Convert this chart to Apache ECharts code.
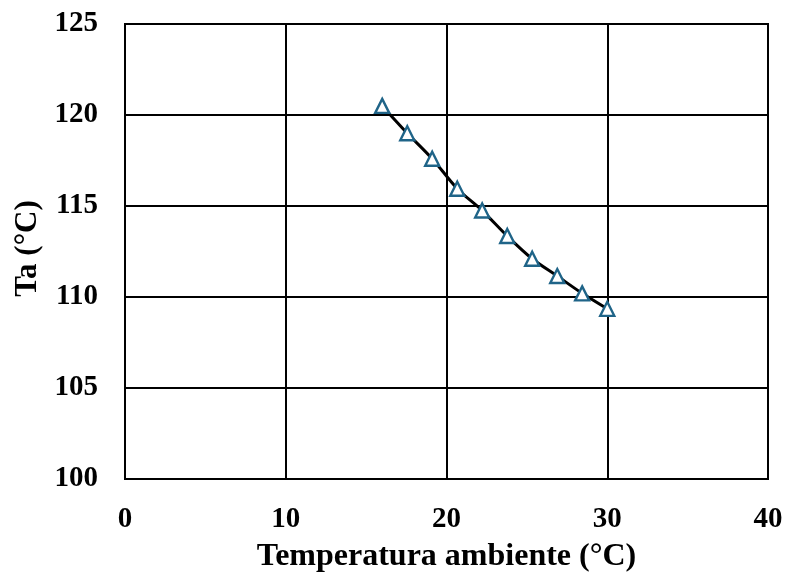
<!DOCTYPE html>
<html><head><meta charset="utf-8">
<script src="https://cdn.jsdelivr.net/npm/echarts@6/dist/echarts.min.js"></script>
<style>html,body{margin:0;padding:0;background:#fff}#c{width:785px;height:580px}</style>
</head><body><div id="c"></div>
<script>
var tempAmbiente = [16, 17.56, 19.11, 20.67, 22.22, 23.78, 25.33, 26.89, 28.44, 30];
var ta = [120.5, 119.0, 117.6, 115.95, 114.75, 113.35, 112.1, 111.15, 110.2, 109.35];
var xTitle = 'Temperatura ambiente (°C)';
var yTitle = 'Ta (°C)';

var data = tempAmbiente.map(function(x, i){ return [x, ta[i]]; });
var font = 'Liberation Serif';
var chart = echarts.init(document.getElementById('c'));
chart.setOption({
  animation: false,
  backgroundColor: '#fff',
  grid: {left: 125, right: 17, top: 24, bottom: 101, show: true, borderColor: '#000', borderWidth: 2,
         containLabel: false, outerBoundsMode: 'none'},
  xAxis: {
    type: 'value', min: 0, max: 40, interval: 10,
    name: xTitle, nameLocation: 'middle', nameGap: 62,
    nameTextStyle: {fontFamily: font, fontWeight: 'bold', fontSize: 32, color: '#000'},
    axisLine: {show: true, lineStyle: {color: '#000', width: 2}},
    axisTick: {show: false},
    axisLabel: {fontFamily: font, fontWeight: 'bold', fontSize: 29, color: '#000', margin: 26},
    splitLine: {show: true, lineStyle: {color: '#000', width: 2}}
  },
  yAxis: {
    type: 'value', min: 100, max: 125, interval: 5,
    name: yTitle, nameLocation: 'middle', nameGap: 82, nameRotate: 90,
    nameTextStyle: {fontFamily: font, fontWeight: 'bold', fontSize: 31, color: '#000', padding: [0, 0, 0, 6]},
    axisLine: {show: true, lineStyle: {color: '#000', width: 2}},
    axisTick: {show: false},
    axisLabel: {fontFamily: font, fontWeight: 'bold', fontSize: 29, color: '#000', margin: 27, padding: [6, 0, 0, 0]},
    splitLine: {show: true, lineStyle: {color: '#000', width: 2}}
  },
  series: [{
    type: 'line',
    data: data,
    smooth: 0.3,
    lineStyle: {color: '#000', width: 3},
    symbol: 'triangle',
    symbolSize: 14,
    itemStyle: {color: '#fff', borderColor: '#1F6488', borderWidth: 2.4},
    z: 3
  }]
});
</script></body></html>
